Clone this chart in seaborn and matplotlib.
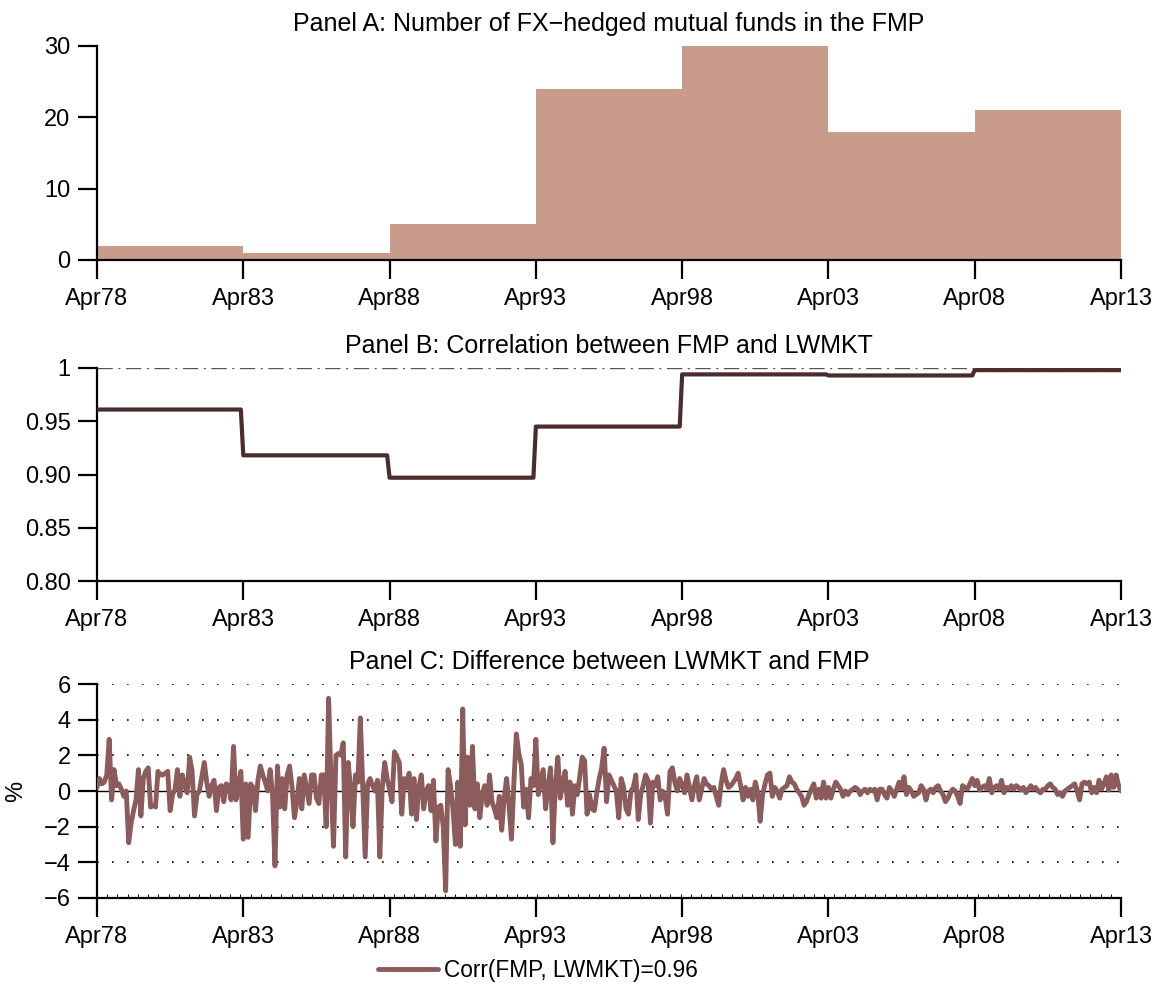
import numpy as np
import pandas as pd
import matplotlib
matplotlib.use("Agg")
import matplotlib.pyplot as plt
import seaborn as sns
from matplotlib.lines import Line2D
from matplotlib.ticker import FixedLocator, FixedFormatter

# ---------------- data ----------------
tick_labels = ["Apr78", "Apr83", "Apr88", "Apr93", "Apr98", "Apr03", "Apr08", "Apr13"]
period_fund_counts = [2, 1, 5, 24, 30, 18, 21]          # per 5-year window
period_corr = [0.961, 0.918, 0.897, 0.945, 0.994, 0.993, 0.998]
corr_yticks = [0.80, 0.85, 0.90, 0.95, 1.0]
corr_ylabels = ["0.80", "0.85", "0.90", "0.95", "1"]
diff_yticks = [-6, -4, -2, 0, 2, 4, 6]
diff_ylabels = ["\u22126", "\u22124", "\u22122", "0", "2", "4", "6"]
corr_label = "Corr(FMP, LWMKT)=0.96"

# monthly difference LWMKT - FMP (%), Apr78 ... Apr13 (one row per year)
diff_pct = [
    0.2, 0.7, 0.4, 0.5, 0.9, 2.9, -0.5, 1.2, 0.3, 0.4, 0.1, -0.3,
    0.0, -2.9, -1.8, -1.1, -0.5, 1.2, -1.4, 0.7, 1.1, 1.3, -0.9, -0.8,
    -0.9, 1.1, 0.9, 0.9, 1.0, 1.1, -1.1, -0.2, 0.1, 1.2, -0.3, 0.9,
    0.3, -0.1, 1.9, 1.1, -1.4, -0.2, 0.0, 0.8, 1.6, 0.5, -0.3, 0.3,
    0.6, -1.1, 0.2, 0.3, -0.6, 0.4, 0.3, -0.5, 2.5, -0.5, 0.2, 1.1,
    -2.7, 0.4, -2.6, 0.4, 0.2, -1.1, 0.6, 1.4, 0.9, 0.5, 0.0, 1.2,
    -0.2, -4.2, 1.4, -0.9, 0.7, -1.0, 0.9, 1.4, 0.2, -1.5, -0.6, 0.7,
    -1.0, 0.9, 0.1, -0.7, 0.9, 0.9, -0.4, -0.7, 0.9, 0.9, -2.0, 5.2,
    0.4, -3.1, 2.0, 2.1, 2.0, 2.7, -3.7, 1.6, 0.2, -2.0, 0.9, 0.5,
    4.1, 0.2, -3.7, 0.4, 0.7, 0.3, 0.0, 0.6, -3.7, 0.2, 1.6, 0.7,
    0.1, -0.6, 2.2, 1.9, 1.6, -1.3, 0.7, 0.2, 1.0, -1.3, 0.7, -1.6,
    0.2, 0.9, -1.0, 0.0, 0.3, -1.1, 0.6, -2.8, -0.9, -0.8, -2.0, -5.6,
    1.2, 0.3, -1.0, -3.0, 0.5, -3.1, 4.6, -1.9, 1.9, -0.8, 2.5, -1.0,
    0.4, -1.5, -0.2, 0.3, -0.8, 0.9, -0.6, -1.0, -1.5, -0.3, -2.2, -0.4,
    0.7, -0.8, -2.7, 0.5, 3.2, 2.1, 1.5, -0.9, 0.1, -1.5, 0.7, 0.3,
    2.9, -0.2, 0.5, 1.2, -1.0, 0.2, 1.3, -2.9, 0.3, 1.9, -0.4, 0.4,
    1.1, -0.8, 0.5, -1.3, 0.3, -0.2, 0.8, 1.9, 1.7, -1.3, -0.2, -1.0,
    -1.1, -0.1, 0.7, 1.3, 2.4, -0.6, 0.9, 0.6, 0.3, 0.0, -1.5, 0.7,
    0.2, -1.0, -1.3, 0.0, 0.2, 0.9, -1.6, -0.2, 0.3, 0.9, 0.6, -1.8,
    0.5, 0.3, 0.8, -0.5, 0.0, -0.3, -1.3, 1.1, 1.3, 0.5, 0.0, 0.7,
    0.3, -0.1, 0.9, 0.2, -0.5, 0.3, 0.8, -0.5, 0.1, 0.7, 0.4, 0.3,
    0.1, 0.2, -0.3, -0.8, 0.4, 1.2, 0.6, 0.2, 0.3, 0.5, 0.7, 1.0,
    0.3, -0.5, 0.2, -0.3, 0.1, -0.5, 0.5, -0.1, -1.7, -0.2, 0.4, 0.9,
    1.0, -0.3, 0.2, 0.0, -0.4, 0.1, 0.2, 0.3, 0.8, 0.5, 0.4, 0.1,
    -0.1, -0.3, -0.8, -0.6, -0.2, 0.1, 0.4, -0.4, 0.1, -0.4, 0.5, -0.4,
    0.2, -0.4, 0.1, 0.5, 0.3, 0.1, -0.3, 0.0, -0.2, 0.0, 0.1, 0.2,
    0.1, -0.2, 0.0, 0.1, -0.1, 0.1, 0.0, 0.1, -0.5, 0.1, 0.1, -0.2,
    -0.4, 0.2, 0.0, -0.3, 0.1, 0.5, 0.1, 0.8, -0.2, 0.2, 0.0, -0.3,
    -0.2, -0.1, 0.3, 0.1, -0.5, 0.0, 0.1, -0.1, 0.2, 0.3, 0.0, -0.2,
    -0.6, -0.4, -0.1, 0.1, 0.0, -0.3, -0.7, 0.3, 0.2, 0.1, 0.4, 0.7,
    0.3, 0.6, 0.05, 0.2, 0.3, 0.1, 0.7, -0.1, 0.2, 0.3, 0.1, 0.6,
    -0.1, 0.2, 0.1, 0.3, 0.1, 0.3, 0.2, 0.05, 0.2, -0.1, 0.1, 0.3,
    0.1, 0.2, 0.0, -0.1, 0.1, 0.1, 0.3, 0.4, 0.2, 0.1, -0.2, -0.1,
    -0.3, 0.0, 0.1, 0.2, 0.3, 0.4, 0.0, -0.5, 0.4, 0.5, 0.4, 0.5,
    -0.1, 0.2, -0.1, 0.6, 0.1, 0.4, 0.8, 0.05, 0.9, 0.2, 0.9, 0.3,
    0.0,
]

# ---------------- derived monthly series ----------------
start = 1978.25           # Apr 1978 in decimal years
months_per_period = 60
n_months = months_per_period * len(period_fund_counts)
assert len(diff_pct) == n_months + 1

bar_df = pd.DataFrame({
    "t": start + (np.arange(n_months) + 0.5) / 12.0,
    "funds": np.repeat(period_fund_counts, months_per_period),
})
corr_vals = np.append(np.repeat(period_corr, months_per_period), period_corr[-1])
corr_df = pd.DataFrame({"t": start + np.arange(n_months + 1) / 12.0, "corr": corr_vals})
diff_df = pd.DataFrame({"t": start + np.arange(n_months + 1) / 12.0, "diff": diff_pct})

xticks = [start + 5 * i for i in range(len(tick_labels))]
xlim = (xticks[0], xticks[-1])

# ---------------- style ----------------
sns.set_theme(style="ticks")
plt.rcParams["font.family"] = ["Liberation Sans", "DejaVu Sans"]
for k in ["text.color", "axes.labelcolor", "xtick.color", "ytick.color", "axes.edgecolor"]:
    plt.rcParams[k] = "black"
FS = 17
TFS = 18
LFS = 16.3
BAR_COLOR = "#c99b8b"
CORR_COLOR = "#4a2c2c"
DIFF_COLOR = "#8c5b5b"

W, H = 1157, 992
fig = plt.figure(figsize=(W / 100, H / 100), dpi=100)

def add_axes(top_px, bottom_px):
    return fig.add_axes([97 / W, 1 - bottom_px / H, 1024 / W, (bottom_px - top_px) / H])

axA = add_axes(46, 260)
axB = add_axes(368, 581)
axC = add_axes(684, 898)

def style_axis(ax):
    for s in ["top", "right"]:
        ax.spines[s].set_visible(False)
    for s in ["left", "bottom"]:
        ax.spines[s].set_linewidth(1.6)
        ax.spines[s].set_color("black")
    ax.tick_params(axis="both", which="major", length=14, width=1.6, colors="black",
                   labelsize=FS, direction="out")
    ax.tick_params(axis="y", pad=5)
    ax.tick_params(axis="x", pad=6)
    ax.set_xlim(*xlim)
    ax.xaxis.set_major_locator(FixedLocator(xticks))
    ax.xaxis.set_major_formatter(FixedFormatter(tick_labels))
    ax.set_xlabel("")
    ax.set_ylabel("")
    ax.set_facecolor("white")

# ---- Panel A ----
sns.barplot(data=bar_df, x="t", y="funds", native_scale=True, width=1.0,
            color=BAR_COLOR, saturation=1, errorbar=None, linewidth=0, ax=axA)
style_axis(axA)
axA.set_ylim(0, 30)
axA.yaxis.set_major_locator(FixedLocator([0, 10, 20, 30]))
axA.yaxis.set_major_formatter(FixedFormatter(["0", "10", "20", "30"]))
axA.set_title("Panel A: Number of FX\u2212hedged mutual funds in the FMP", fontsize=TFS, pad=11)

# ---- Panel B ----
axB.axhline(1.0, color="#555555", lw=1.0, dashes=(11, 4, 1.5, 4), zorder=1)
sns.lineplot(data=corr_df, x="t", y="corr", color=CORR_COLOR, lw=3.0, ax=axB, zorder=3)
style_axis(axB)
axB.set_ylim(0.8, 1.0)
axB.yaxis.set_major_locator(FixedLocator(corr_yticks))
axB.yaxis.set_major_formatter(FixedFormatter(corr_ylabels))
axB.set_title("Panel B: Correlation between FMP and LWMKT", fontsize=TFS, pad=11)

# ---- Panel C ----
for yv in [-4, -2, 2, 4, 6]:
    axC.axhline(yv, color="black", lw=1.2, ls=(0, (1, 8)), zorder=1)
axC.axhline(0, color="black", lw=1.0, zorder=1)
sns.lineplot(data=diff_df, x="t", y="diff", color=DIFF_COLOR, lw=3.5, ax=axC, zorder=3)
style_axis(axC)
axC.set_ylim(-6, 6)
axC.yaxis.set_major_locator(FixedLocator(diff_yticks))
axC.yaxis.set_major_formatter(FixedFormatter(diff_ylabels))
axC.xaxis.set_minor_locator(FixedLocator([start + 0.35 * k for k in range(101)]))
axC.tick_params(axis="x", which="minor", length=3, width=0.7, direction="in", colors="black")
axC.set_ylabel("%", fontsize=FS, labelpad=12)
axC.set_title("Panel C: Difference between LWMKT and FMP", fontsize=TFS, pad=11)

handle = Line2D([0], [0], color=DIFF_COLOR, lw=3.5)
fig.legend(handles=[handle], labels=[corr_label], loc="center",
           bbox_to_anchor=(538 / W, 1 - 970 / H), frameon=False, fontsize=LFS,
           handlelength=2.65, handletextpad=0.25)

fig.savefig("out.png", dpi=100, facecolor="white")
